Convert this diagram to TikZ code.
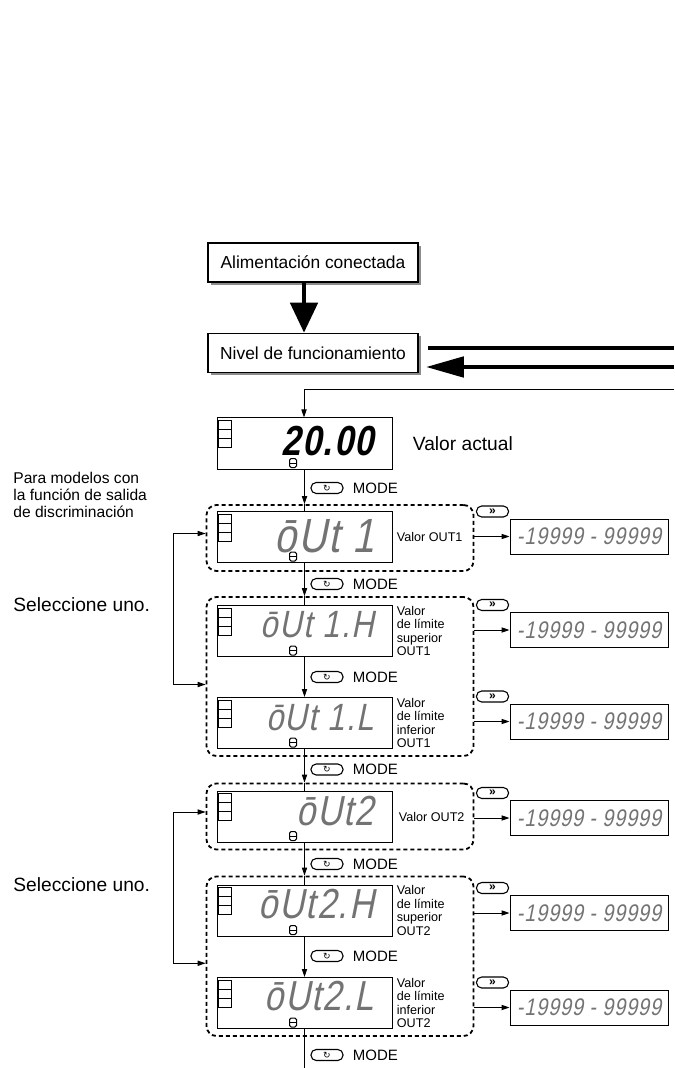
\documentclass[tikz,border=0pt]{standalone}
\usepackage{fontspec}
\setmainfont{Liberation Sans}
\newfontfamily\segfont[FakeStretch=0.82,FakeSlant=0.2,LetterSpace=4]{Liberation Sans}
\newfontfamily\symfont{DejaVu Sans}
\usetikzlibrary{arrows.meta,positioning,shadows,fit}

\tikzset{
  levelbox/.style={draw, line width=0.8pt, fill=white, minimum width=105pt, minimum height=19.5pt,
    inner sep=0pt, font=\fontsize{8.7}{10}\selectfont,
    drop shadow={shadow xshift=1.5pt, shadow yshift=-1.5pt, fill=black!45, opacity=1}},
  lcd/.style={draw, line width=0.5pt, minimum width=87.5pt, minimum height=25.5pt, inner sep=0pt},
  reading/.style={inner sep=0pt, font=\segfont},
  valbox/.style={draw, line width=0.5pt, minimum width=79pt, minimum height=17.5pt, inner sep=0pt,
    text=black!55, font=\segfont\fontsize{12}{12}\selectfont},
  dashgroup/.style={draw, dash pattern=on 2pt off 1.5pt, line width=0.9pt, rounded corners=5pt, inner sep=0pt},
  flow/.style={line width=0.5pt, ->, >={Triangle[length=4pt,width=2.6pt]}},
  heavy/.style={line width=2.4pt},
  keycap/.style={draw, line width=0.55pt, rounded corners=2.6pt, minimum width=16pt, minimum height=5.5pt, inner sep=0pt},
  modelabel/.style={inner sep=0pt, font=\fontsize{7.5}{8}\selectfont},
  note/.style={inner sep=0pt, align=left, anchor=west, font=\fontsize{6.3}{6.7}\selectfont},
  side/.style={inner sep=0pt, align=left, anchor=west},
}

% panel: name, y, font, baseline drop, reading
\newcommand{\lcdpanel}[5]{%
  \node[lcd] (#1) at (304.5,#2) {};
  \foreach \k in {0,1,2}
    \draw[line width=0.5pt] ([shift={(1pt,{-1.5pt-4.5pt*\k})}]#1.north west) rectangle ++(6.5pt,-4.5pt);
  \draw[line width=0.5pt, rounded corners=0.8pt] ([shift={(36.5pt,1pt)}]#1.south west) rectangle ++(3.5pt,4.5pt);
  \draw[line width=0.5pt] ([shift={(36.5pt,3.2pt)}]#1.south west) -- ++(3.5pt,0);
  \node[reading, anchor=base east] at ([shift={(-9pt,-#4pt)}]#1.east) {#3#5};
}

\begin{document}
\begin{tikzpicture}[x=0.5pt,y=-0.5pt]
\useasboundingbox (0,0) rectangle (674,1068);

% levels
\node[levelbox] (power) at (313,262.5) {Alimentación conectada};
\node[levelbox] (level) at (313,353) {Nivel de funcionamiento};
\coordinate (axis) at (304,0);
\coordinate (rim) at (674,0);
\coordinate (back) at (674,390);
\coordinate (rail) at (173,0);
\coordinate (tail) at (304.5,1068);

\draw[heavy, -{Triangle[length=15pt,width=13.5pt]}] (power.south -| axis) -- (level.north -| axis);
\draw[heavy] ([shift={(4.5pt,2.5pt)}]level.east) coordinate (out) -- (out -| rim);
\draw[heavy, -{Triangle[length=19pt,width=10pt]}] ([yshift=-7pt]level.east -| rim) -- ([shift={(3.5pt,-7pt)}]level.east);

% panels
\lcdpanel{d0}{443.5}{\color{black}\bfseries\fontsize{21}{21}\selectfont}{5.75}{20.00}
\lcdpanel{d1}{537}{\color{black!55}\fontsize{24}{24}\selectfont}{7.5}{ōUt 1}
\lcdpanel{d2}{631}{\color{black!55}\fontsize{19}{19}\selectfont}{3}{ōUt 1.H}
\lcdpanel{d3}{723}{\color{black!55}\fontsize{19}{19}\selectfont}{3.5}{ōUt 1.L}
\lcdpanel{d4}{816.5}{\color{black!55}\fontsize{21}{21}\selectfont}{4.25}{ōUt2}
\lcdpanel{d5}{910.5}{\color{black!55}\fontsize{21}{21}\selectfont}{3.75}{ōUt2.H}
\lcdpanel{d6}{1003}{\color{black!55}\fontsize{21}{21}\selectfont}{3.5}{ōUt2.L}

% dashed groups
\node[dashgroup, fit={([shift={(-5pt,3pt)}]d1.north west) ([shift={(40.5pt,-4pt)}]d1.south east)}] (g1) {};
\node[dashgroup, fit={([shift={(-5pt,4pt)}]d2.north west) ([shift={(40.5pt,-3.5pt)}]d3.south east)}] (g2) {};
\node[dashgroup, fit={([shift={(-5pt,3.5pt)}]d4.north west) ([shift={(40.5pt,-3.5pt)}]d4.south east)}] (g3) {};
\node[dashgroup, fit={([shift={(-5pt,4pt)}]d5.north west) ([shift={(40.5pt,-3.5pt)}]d6.south east)}] (g4) {};

% main line
\draw[flow] (back) -- (back -| axis) -- (d0.north -| axis);
\draw[flow] (d0.south) -- (d0.south |- g1.north);
\draw[line width=0.5pt] (d0.south |- g1.north) -- (d1.north);
\draw[flow] (d1.south) -- (d1.south |- g2.north);
\draw[line width=0.5pt] (d1.south |- g2.north) -- (d2.north);
\draw[flow] (d2.south) -- (d3.north);
\draw[flow] (d3.south) -- (d3.south |- g3.north);
\draw[line width=0.5pt] (d3.south |- g3.north) -- (d4.north);
\draw[flow] (d4.south) -- (d4.south |- g4.north);
\draw[line width=0.5pt] (d4.south |- g4.north) -- (d5.north);
\draw[flow] (d5.south) -- (d6.north);
\draw[line width=0.5pt] (d6.south) -- (tail);

% MODE keys
\foreach \y [count=\i] in {488,584,677,769.5,864,956,1055} {
  \node[keycap, fill=white] (k\i) at (327,\y) {\symfont\fontsize{4.5}{4.5}\selectfont ↻};
  \node[modelabel, right=4.5pt of k\i] {MODE};
}

% setting values
\foreach \n/\y/\g in {1/536.5/g1, 2/630/g2, 3/721.5/g2, 4/818/g3, 5/913/g4, 6/1007.5/g4} {
  \node[valbox] (v\n) at (589,\y) {-19999 - 99999};
  \node[keycap] at ([shift={(-8.5pt,3.5pt)}]v\n.north west) {\bfseries\fontsize{6}{6}\selectfont »};
  \draw[flow] (v\n.west -| \g.east) -- (v\n.west);
}

% selection rails
\draw[flow, <->] ([yshift=2.25pt]g1.west) -- ([yshift=2.25pt]g1.west -| rail)
  -- ([yshift=-4pt]g2.west -| rail) -- ([yshift=-4pt]g2.west);
\draw[flow, <->] ([yshift=2.25pt]g3.west) -- ([yshift=2.25pt]g3.west -| rail)
  -- ([yshift=-3.5pt]g4.west -| rail) -- ([yshift=-3.5pt]g4.west);

% texts
\node[side, font=\fontsize{9.6}{11}\selectfont] at ([xshift=10pt]d0.east) {Valor actual};
\node[side, font=\fontsize{7.8}{8.3}\selectfont] at (13,495) {Para modelos con\\la función de salida\\de discriminación};
\node[side, font=\fontsize{9.6}{11}\selectfont] at (13,605) {Seleccione uno.};
\node[side, font=\fontsize{9.6}{11}\selectfont] at (13,885) {Seleccione uno.};
\node[note] at ([xshift=2pt]d1.east) {Valor OUT1};
\node[note] at ([xshift=2pt]d2.east) {Valor\\de límite\\superior\\OUT1};
\node[note] at ([xshift=2pt]d3.east) {Valor\\de límite\\inferior\\OUT1};
\node[note] at ([xshift=3pt]d4.east) {Valor OUT2};
\node[note] at ([xshift=2pt]d5.east) {Valor\\de límite\\superior\\OUT2};
\node[note] at ([xshift=2pt]d6.east) {Valor\\de límite\\inferior\\OUT2};
\end{tikzpicture}
\end{document}
